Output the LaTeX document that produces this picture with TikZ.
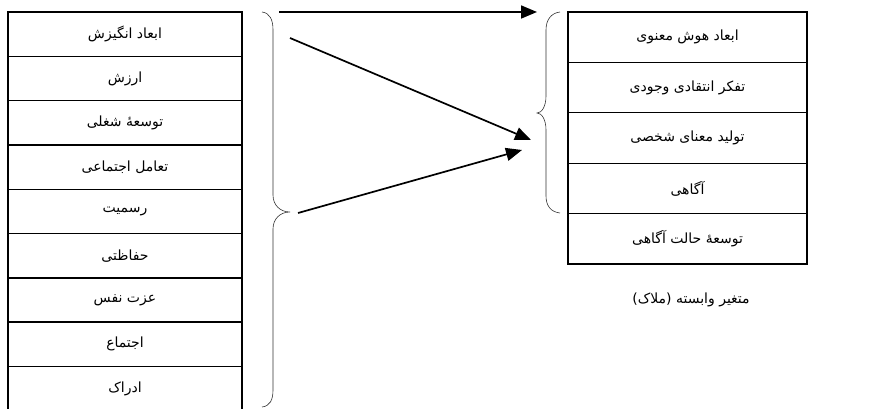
\documentclass[tikz,border=0pt]{standalone}
\usepackage{fontspec}
\usetikzlibrary{arrows.meta}
\TeXXeTstate=1
\newfontfamily\arabicfont[Script=Arabic]{DejaVu Sans}
\newcommand{\fa}[1]{{\arabicfont\beginR #1\endR}}
\tikzset{
  lbox/.style={draw, line width=1.4pt, minimum width=234pt, minimum height=44.3pt, inner sep=0pt, font=\fontsize{14}{16}\selectfont},
  rbox/.style={draw, line width=1.4pt, minimum width=239pt, minimum height=50.4pt, inner sep=0pt, font=\fontsize{14}{16}\selectfont},
  bracepath/.style={line width=0.6pt, draw=black!80},
  conn/.style={line width=1.7pt, -{Triangle[length=16pt,width=13pt]}}
}
\begin{document}
\begin{tikzpicture}[x=1pt,y=-1pt]
\useasboundingbox (0,0) rectangle (893,409);
\foreach \i/\t in {1/ابعاد انگیزش,2/ارزش,3/توسعهٔ شغلی,4/تعامل اجتماعی,5/رسمیت,6/حفاظتی,7/عزت نفس,8/اجتماع,9/ادراک}{
  \node[lbox] (l\i) at (125,{12+44.3*(\i-0.5)}) {\fa{\t}};
}
\foreach \i/\t in {1/ابعاد هوش معنوی,2/تفکر انتقادی وجودی,3/تولید معنای شخصی,4/آگاهی,5/توسعهٔ حالت آگاهی}{
  \node[rbox] (r\i) at (687.5,{12+50.4*(\i-0.5)}) {\fa{\t}};
}
\node[font=\fontsize{14}{16}\selectfont] (lab) at (691,300) {\fa{متغیر وابسته (ملاک)}};
% braces
\draw[bracepath] (262,12) .. controls (270,13) and (273,20) .. (273,30) -- (273,195)
  .. controls (273,205) and (280,212) .. (290,212)
  .. controls (280,212) and (273,219) .. (273,229) -- (273,390)
  .. controls (273,400) and (270,406) .. (262,407);
\draw[bracepath] (560,12) .. controls (551,13) and (546,20) .. (546,30) -- (546,96)
  .. controls (546,106) and (542,113) .. (537,113)
  .. controls (542,113) and (546,120) .. (546,130) -- (546,196)
  .. controls (546,206) and (551,212) .. (560,213);
% arrows
\coordinate (a1s) at (279,12);
\coordinate (a1e) at (537,12);
\coordinate (a2s) at (290,38);
\coordinate (a2e) at (531,140);
\coordinate (a3s) at (298,213);
\coordinate (a3e) at (522,150);
\draw[conn] (a1s) -- (a1e);
\draw[conn] (a2s) -- (a2e);
\draw[conn] (a3s) -- (a3e);
\end{tikzpicture}
\end{document}
